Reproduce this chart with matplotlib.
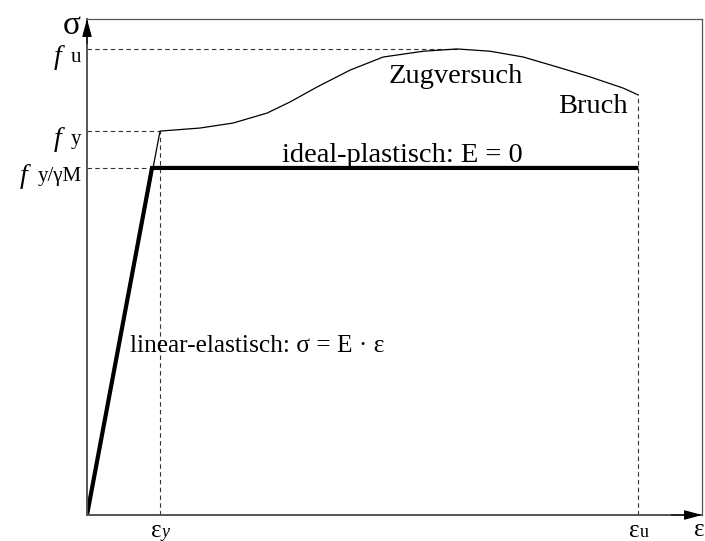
import matplotlib
matplotlib.use("Agg")
import matplotlib.pyplot as plt

plt.rcParams["font.family"] = ["Liberation Serif", "DejaVu Serif"]

# Characteristic points (strain normalised to eps_y, stress normalised to f_y)
eps_y = 1.0
eps_u = 7.55
eps_el = 0.89          # strain where the design line reaches f_y / gamma_M
f_y = 1.0
f_y_gm = 0.904
f_u = 1.214
eps_fu = 5.07          # strain at peak stress

# Tensile test curve (hardening branch, from yield to fracture)
test_eps = [1.0, 1.548, 2.0, 2.466, 2.781, 3.151, 3.603, 4.055, 4.603,
            5.068, 5.521, 5.973, 6.438, 6.890, 7.342, 7.548]
test_sig = [1.0, 1.008, 1.021, 1.047, 1.076, 1.115, 1.159, 1.193, 1.208,
            1.214, 1.208, 1.193, 1.167, 1.141, 1.112, 1.094]

x_max = 8.42
y_max = 1.292

fig = plt.figure(figsize=(7.05, 5.41), dpi=100)
ax = fig.add_axes([87 / 705, 26 / 541, 615 / 705, 496 / 541])
ax.set_xlim(0, x_max)
ax.set_ylim(0, y_max)
ax.set_xticks([])
ax.set_yticks([])

for side in ("top", "right"):
    ax.spines[side].set_color("#555555")
    ax.spines[side].set_linewidth(0.9)
for side in ("left", "bottom"):
    ax.spines[side].set_color("#555555")
    ax.spines[side].set_linewidth(1.4)

# axis arrows
arrow_kw = dict(arrowstyle="-|>,head_length=1.1,head_width=0.3",
                color="black", lw=0.8, shrinkA=0, shrinkB=0)
ax.annotate("", xy=(0, 1), xytext=(0, 0.95), xycoords="axes fraction",
            arrowprops=arrow_kw, annotation_clip=False)
ax.annotate("", xy=(1, 0), xytext=(0.95, 0), xycoords="axes fraction",
            arrowprops=arrow_kw, annotation_clip=False)

dash = dict(color="#333333", lw=0.8, linestyle=(0, (4, 3)))

# guide lines
ax.plot([0, eps_fu], [f_u, f_u], **dash)
ax.plot([0, eps_y], [f_y, f_y], **dash)
ax.plot([0, eps_el], [f_y_gm, f_y_gm], **dash)
ax.plot([eps_y, eps_y], [0, f_y], **dash)
ax.plot([eps_u, eps_u], [0, test_sig[-1]], **dash)

# tensile test curve
ax.plot([0] + test_eps, [0] + test_sig, color="black", lw=0.9,
        solid_joinstyle="round")

# linear-elastic / ideal-plastic design law
ax.plot([0, eps_el, eps_u], [0, f_y_gm, f_y_gm], color="black", lw=3.0,
        solid_joinstyle="miter", solid_capstyle="butt")

fs = 20.5
ax.text(4.315, 0.919, "ideal-plastisch: E = 0", fontsize=fs,
        ha="center", va="baseline")
ax.text(5.055, 1.125, "Zugversuch", fontsize=fs, ha="center", va="baseline")
ax.text(6.93, 1.047, "Bruch", fontsize=fs, ha="center", va="baseline")
ax.text(2.336, 0.4245, "linear-elastisch: σ = E · ε", fontsize=18.3,
        ha="center", va="baseline")

# stress labels on the vertical axis
fig.canvas.draw()
renderer = fig.canvas.get_renderer()
for sub, level in (("u", f_u), ("y", f_y), ("y/γM", f_y_gm)):
    t = ax.annotate(sub, xy=(0, level), xytext=(-4, 1),
                    textcoords="offset points", fontsize=15,
                    ha="right", va="top", annotation_clip=False)
    bb = t.get_window_extent(renderer)
    x0_disp = ax.transData.transform((0, level))[0]
    gap_pts = (x0_disp - bb.x0) * 72 / fig.dpi + 7
    ax.annotate("f", xy=(0, level), xytext=(-gap_pts, -6),
                textcoords="offset points", fontsize=20, style="italic",
                ha="right", va="center", annotation_clip=False)

ax.annotate("σ", xy=(0, y_max), xytext=(-11, -5), textcoords="offset points",
            fontsize=24, ha="center", va="center", annotation_clip=False)

# strain labels on the horizontal axis
for sub, pos, st in (("y", eps_y, "italic"), ("u", eps_u, "normal")):
    ax.annotate("ε", xy=(pos, 0), xytext=(1, -15.5), textcoords="offset points",
                fontsize=18, ha="right", va="baseline", annotation_clip=False)
    ax.annotate(sub, xy=(pos, 0), xytext=(1, -15.5), textcoords="offset points",
                fontsize=13, style=st, ha="left", va="baseline",
                annotation_clip=False)
fig.text(0.999, 4.5 / 541, "ε", fontsize=18, ha="right", va="baseline")

fig.savefig("out.png", dpi=100)
